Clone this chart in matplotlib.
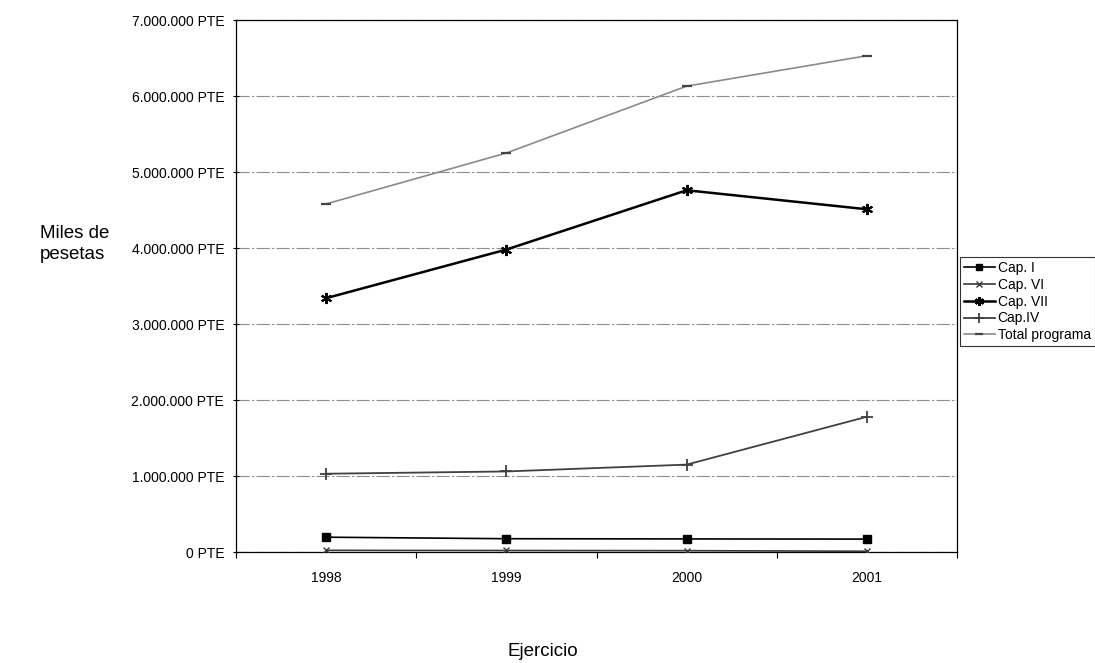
import matplotlib
matplotlib.use("Agg")
import matplotlib.pyplot as plt
from matplotlib.ticker import FuncFormatter

plt.rcParams['font.family'] = ['Liberation Sans', 'DejaVu Sans']

# Data (miles de pesetas)
years = ["1998", "1999", "2000", "2001"]
cap_i = [195000, 175000, 172000, 170000]
cap_vi = [22000, 20000, 18000, 10000]
cap_vii = [3340000, 3980000, 4760000, 4510000]
cap_iv = [1030000, 1060000, 1150000, 1780000]
total_programa = [4580000, 5250000, 6130000, 6530000]

y_ticks = [0, 1000000, 2000000, 3000000, 4000000, 5000000, 6000000, 7000000]

fig = plt.figure(figsize=(10.95, 6.63), dpi=100)
ax = fig.add_axes([0.2155, 0.1674, 0.6585, 0.8024])

x = list(range(len(years)))

ax.plot(x, cap_i, color='black', lw=1.2, marker='s', ms=6, mfc='black', mec='black',
        label='Cap. I', zorder=4)
ax.plot(x, cap_vi, color='#3a3a3a', lw=1.2, marker='x', ms=5, mew=1.0,
        label='Cap. VI', zorder=4)
ax.plot(x, cap_vii, color='black', lw=1.8, marker=(6, 2, 0), ms=8, mew=1.5,
        label='Cap. VII', zorder=4)
ax.plot(x, cap_iv, color='#404040', lw=1.3, marker='+', ms=9, mew=1.3,
        label='Cap.IV', zorder=4)
ax.plot(x, total_programa, color='#8a8a8a', lw=1.2, marker='_', ms=7, mew=1.6,
        mec='#444444', label='Total programa', zorder=4)

ax.set_xlim(-0.5, len(years) - 0.5)
ax.set_ylim(0, 7000000)
ax.set_yticks(y_ticks)
ax.yaxis.set_major_formatter(
    FuncFormatter(lambda v, p: f"{int(v):,}".replace(",", ".") + " PTE"))
ax.set_xticks(x)
ax.set_xticklabels(years)
ax.set_xticks([i + 0.5 for i in range(-1, len(years))], minor=True)

ax.tick_params(axis='x', which='major', length=0, pad=14, labelsize=10)
ax.tick_params(axis='x', which='minor', length=4, width=0.8, direction='out')
ax.tick_params(axis='y', which='major', length=5, width=0.8, direction='inout',
               pad=6, labelsize=10)

ax.grid(axis='y', color='#8f8f8f', lw=0.8, linestyle=(0, (12, 2, 2, 2)))
ax.set_axisbelow(True)
for s in ax.spines.values():
    s.set_color('black')
    s.set_linewidth(0.9)

fig.text(40 / 1095, 1 - 244 / 663, "Miles de\npesetas", fontsize=13.5,
         ha='left', va='center', linespacing=1.35)
fig.text(543 / 1095, 1 - 652 / 663, "Ejercicio", fontsize=13.5,
         ha='center', va='center')

leg = fig.legend(loc='upper left', bbox_to_anchor=(960 / 1095, 1 - 257 / 663),
                 fontsize=10, frameon=True, fancybox=False, edgecolor='black',
                 handlelength=2.2, handletextpad=0.2, labelspacing=0.2,
                 borderpad=0.3, borderaxespad=0.0, markerscale=0.8)
leg.get_frame().set_linewidth(0.8)

fig.savefig("out.png", dpi=100)
